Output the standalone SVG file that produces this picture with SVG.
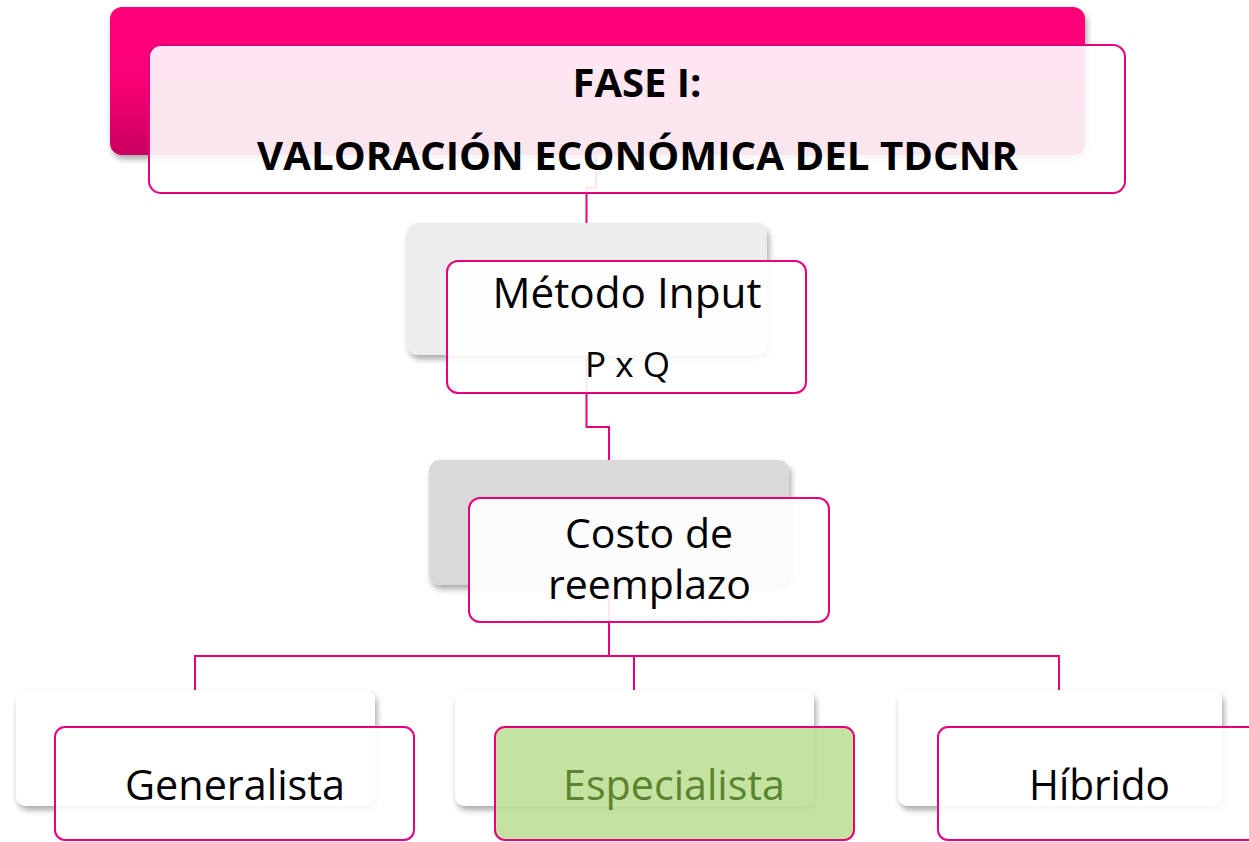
<svg xmlns="http://www.w3.org/2000/svg" width="1249" height="842" viewBox="0 0 1249 842">
<defs>
<linearGradient id="gPink" x1="0" y1="0" x2="0" y2="1">
<stop offset="0" stop-color="#FF0078"/>
<stop offset="0.45" stop-color="#FC0077"/>
<stop offset="1" stop-color="#C9005F"/>
</linearGradient>
<filter id="sh" x="-5%" y="-10%" width="112%" height="130%">
<feGaussianBlur in="SourceAlpha" stdDeviation="3"/>
<feOffset dx="2" dy="4" result="b"/>
<feComponentTransfer><feFuncA type="linear" slope="0.35"/></feComponentTransfer>
<feMerge><feMergeNode/><feMergeNode in="SourceGraphic"/></feMerge>
</filter>
</defs>
<style>
.front{fill:#FFFFFF;fill-opacity:0.9;stroke:#E6007E;stroke-width:2}
.green{fill:#C0E198;fill-opacity:0.92;stroke:#E6007E;stroke-width:2}
.conn{fill:none;stroke:#E6007E;stroke-width:2}
.t{font-family:"Open Sans","Noto Sans","Liberation Sans",sans-serif;fill:#000;text-anchor:middle}
.tb{font-family:"Open Sans","Noto Sans","Liberation Sans",sans-serif;font-weight:bold;fill:#000;text-anchor:middle}
</style>
<rect width="1249" height="842" fill="#FFFFFF"/>

<g id="backs">
<rect x="110" y="7" width="975" height="148" rx="12" fill="url(#gPink)" filter="url(#sh)"/>
<rect x="407" y="223" width="360" height="132" rx="11" fill="#EDEDED" filter="url(#sh)"/>
<rect x="429" y="460" width="360" height="125" rx="11" fill="#D9D9D9" filter="url(#sh)"/>
<rect x="16" y="690" width="359" height="116" rx="10" fill="#FFFFFF" filter="url(#sh)"/>
<rect x="455" y="690" width="359" height="116" rx="10" fill="#FFFFFF" filter="url(#sh)"/>
<rect x="898" y="690" width="324" height="116" rx="10" fill="#FFFFFF" filter="url(#sh)"/>
</g>

<g id="connectors">
<path class="conn" d="M596,155 V188 H586.5 V223"/>
<path class="conn" d="M586.5,355 V427 H609 V460"/>
<path class="conn" d="M609,585 V656"/>
<path class="conn" d="M195,690 V656 H1059 V690"/>
<path class="conn" d="M634,656 V690"/>
</g>

<g id="node-fase">
<rect class="front" x="149" y="45" width="976" height="148" rx="12"/>
<text class="tb" x="637" y="97" font-size="40">FASE I:</text>
<text class="tb" x="637.5" y="170" font-size="40" textLength="761" lengthAdjust="spacingAndGlyphs">VALORACIÓN ECONÓMICA DEL TDCNR</text>
</g>

<g id="node-metodo">
<rect class="front" x="447" y="261" width="359" height="132" rx="11"/>
<text class="t" x="627" y="308" font-size="42" textLength="269" lengthAdjust="spacingAndGlyphs">Método Input</text>
<text class="t" x="627.5" y="377" font-size="35">P x Q</text>
</g>

<g id="node-costo">
<rect class="front" x="469" y="498" width="360" height="124" rx="11"/>
<text class="t" x="649" y="548" font-size="40" textLength="168" lengthAdjust="spacingAndGlyphs">Costo de</text>
<text class="t" x="649.5" y="599" font-size="40" textLength="203" lengthAdjust="spacingAndGlyphs">reemplazo</text>
</g>

<g id="node-generalista">
<rect class="front" x="55" y="727" width="359" height="113" rx="10"/>
<text class="t" x="235" y="800" font-size="42" textLength="220" lengthAdjust="spacingAndGlyphs">Generalista</text>
</g>

<g id="node-especialista">
<rect class="green" x="495" y="727" width="359" height="113" rx="10"/>
<text class="t" x="674" y="800" font-size="42" style="fill:#5A8430" textLength="222" lengthAdjust="spacingAndGlyphs">Especialista</text>
</g>

<g id="node-hibrido">
<rect class="front" x="938" y="727" width="330" height="113" rx="10"/>
<text class="t" x="1099.5" y="800" font-size="42" textLength="141" lengthAdjust="spacingAndGlyphs">Híbrido</text>
</g>
</svg>
